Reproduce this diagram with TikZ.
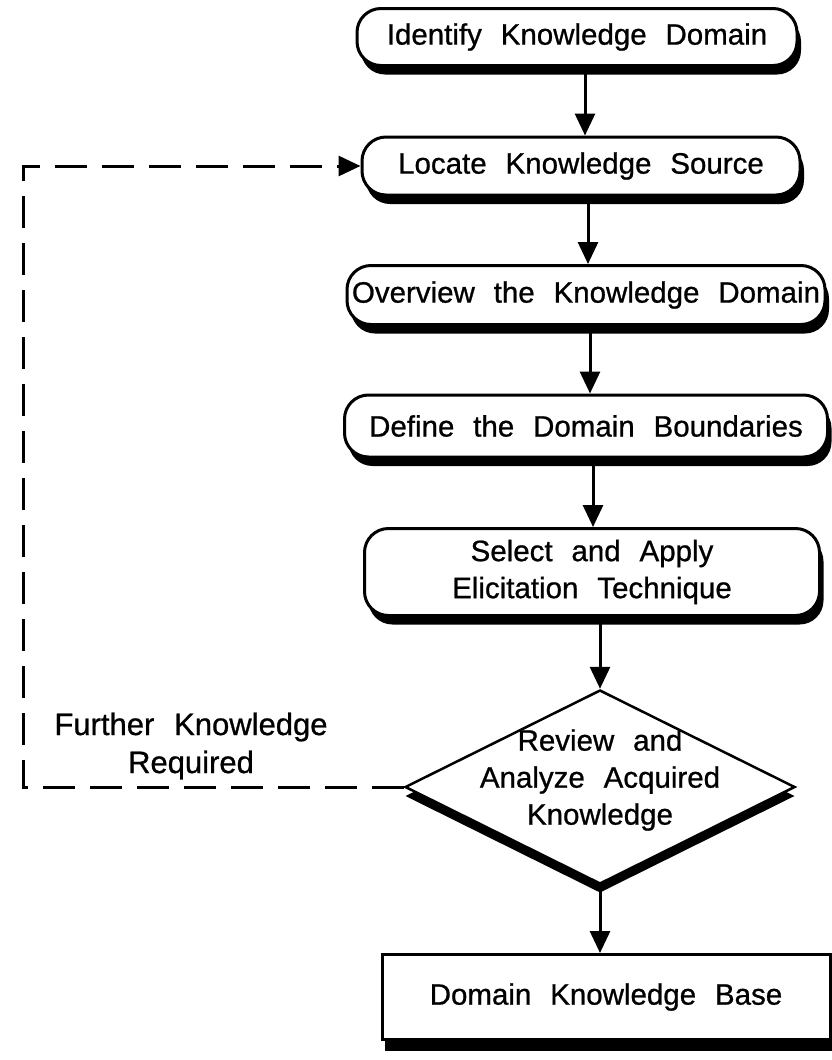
\documentclass[tikz,border=0pt]{standalone}
\usepackage{fontspec}
\setmainfont[WordSpace=2.3, FakeBold=0.8]{Liberation Sans}
\usetikzlibrary{shapes.geometric,shadows,arrows.meta}

\begin{document}
\begin{tikzpicture}[x=1pt,y=-1pt,
  every node/.style={font=\fontsize{29.5}{37}\selectfont},
  stadium/.style={draw=black, line width=3pt, fill=white, rounded corners=24pt,
    inner xsep=3pt, inner ysep=0pt, align=center,
    drop shadow={fill=black, opacity=1, shadow xshift=4pt, shadow yshift=-9pt}},
  decision/.style={shape=diamond, draw=black, line width=2.5pt, fill=white,
    minimum width=390pt, minimum height=194pt, inner sep=0pt,
    drop shadow={fill=black, opacity=1, shadow xshift=0pt, shadow yshift=-9pt}},
  basebox/.style={draw=black, line width=3pt, fill=white, inner sep=0pt,
    drop shadow={fill=black, opacity=1, shadow xshift=3pt, shadow yshift=-11pt}},
  plain/.style={align=center, inner sep=0pt},
  arr/.style={line width=3pt, -{Triangle[width=20pt,length=22pt]}},
  fb/.style={line width=3pt, dash pattern=on 32pt off 15pt, -{Triangle[width=20pt,length=22pt]}}
]
\fill[white] (0,0) rectangle (832,1060);
\useasboundingbox (0,0) rectangle (832,1060);

\node[stadium, minimum width=440pt, minimum height=57pt] (b1) at (577,37) {Identify Knowledge Domain};
\node[stadium, minimum width=438pt, minimum height=58pt] (b2) at (581,166) {Locate Knowledge Source};
\node[stadium, minimum width=478pt, minimum height=59pt] (b3) at (586,295) {Overview the Knowledge Domain};
\node[stadium, minimum width=483pt, minimum height=62pt] (b4) at (586,426) {Define the Domain Boundaries};
\node[stadium, minimum width=455pt, minimum height=87pt] (b5) at (592,572) {Select and Apply\\Elicitation Technique};
\node[decision] (d) at (600,787) {};
\node[plain] (dt) at (600,780) {Review and\\Analyze Acquired\\Knowledge};
\node[basebox, minimum width=448pt, minimum height=85pt] (kb) at (606,997) {Domain Knowledge Base};
\node[plain, font=\fontsize{31}{38}\selectfont] (fk) at (191,746) {Further Knowledge\\Required};

\coordinate (cl) at (23,787);
\coordinate (ct) at (23,166);

\draw[arr] ([xshift=8pt]b1.south) -- ([xshift=8pt]b1.south |- b2.north);
\draw[arr] ([xshift=7pt]b2.south) -- ([xshift=7pt]b2.south |- b3.north);
\draw[arr] ([xshift=4pt]b3.south) -- ([xshift=4pt]b3.south |- b4.north);
\draw[arr] ([xshift=7pt]b4.south) -- ([xshift=7pt]b4.south |- b5.north);
\draw[arr] (d.north |- b5.south) -- (d.north);
\draw[arr] (d.south) -- (d.south |- kb.north);
\draw[fb] (d.west) -- (cl) -- (ct) -- (b2.west);
\end{tikzpicture}
\end{document}
